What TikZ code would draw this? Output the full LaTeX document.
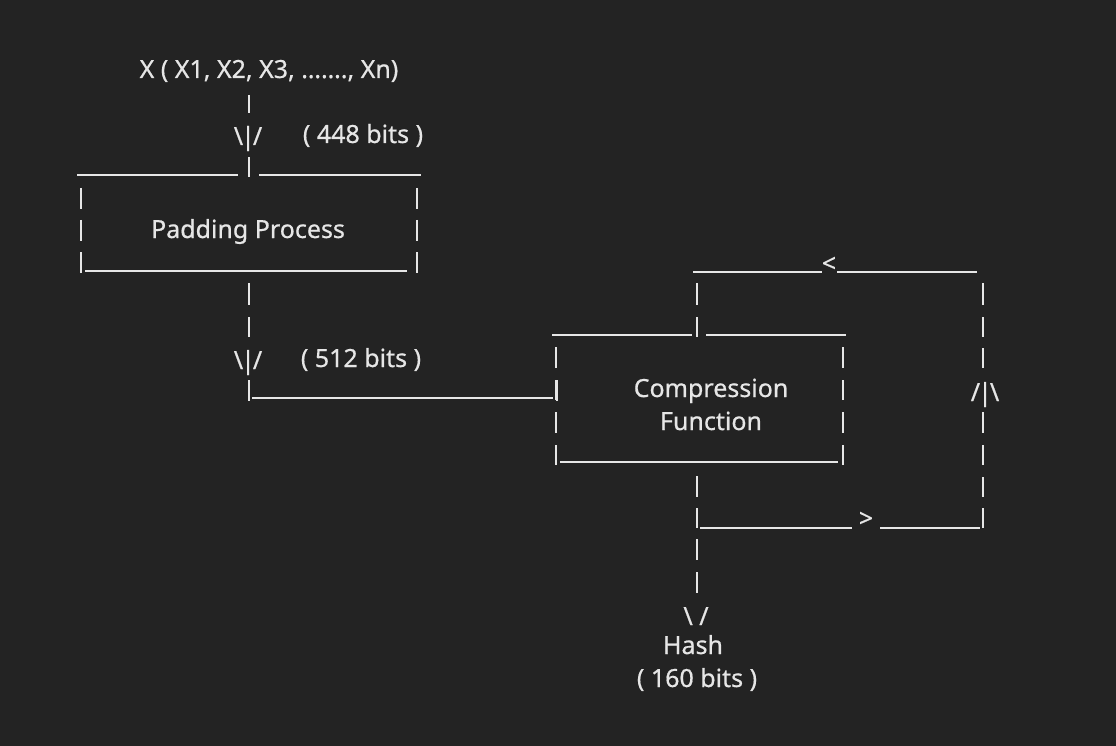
\documentclass[tikz,border=0pt]{standalone}
\usepackage{fontspec}
\setmainfont[FakeBold=0.6]{Noto Sans}
\definecolor{bg}{HTML}{232323}
\definecolor{fg}{HTML}{E6E6E6}
\tikzset{
  asciitext/.style={text=fg, font=\fontsize{25}{30}\selectfont, inner sep=0pt, anchor=base},
  bar/.style={draw=fg, line width=2pt},
}

\begin{document}
\begin{tikzpicture}[x=1pt,y=-1pt]
  % Background
  \fill[bg] (0,0) rectangle (1116,746);
  % Input and the padding box
  \node[asciitext] (input) at (269,78) {X ( X1, X2, X3, ……., Xn)};
  \node[asciitext] (headA) at (248,145) {\textbackslash\kern-2pt|\kern-2pt/};
  \node[asciitext] (bits448) at (363,143) {( 448 bits )};
  \node[asciitext] (padding) at (248,238) {Padding Process};
  \draw[bar] (77,175) -- (238,175);
  \draw[bar] (259,175) -- (421,175);
  \draw[bar] (85,271) -- (407,271);
  \foreach \a/\b in {188/209,220/241,252/273}{
    \draw[bar] (81,\a) -- (81,\b);
    \draw[bar] (417,\a) -- (417,\b);
  }
  % Down from the padding box
  \foreach \a/\b in {95/113,157/177,283/305,317/337,380/401}
    \draw[bar] (249,\a) -- (249,\b);
  \node[asciitext] (headB) at (248,369) {\textbackslash\kern-2pt|\kern-2pt/};
  \node[asciitext] (bits512) at (361,367) {( 512 bits )};
  \draw[bar] (252,398) -- (553,398);
  \draw[bar] (557,380) -- (557,401);
  % The compression box
  \node[asciitext] (compress) at (711,397) {Compression};
  \node[asciitext] (function) at (711,430) {Function};
  \draw[bar] (552,335) -- (692,335);
  \draw[bar] (706,335) -- (846,335);
  \draw[bar] (560,462) -- (838,462);
  \foreach \a/\b in {347/368,380/400,412/433,445/465}{
    \draw[bar] (556,\a) -- (556,\b);
    \draw[bar] (843,\a) -- (843,\b);
  }
  % Feedback loop
  \draw[bar] (693,272) -- (822,272);
  \node[asciitext] (back) at (829,272) {<};
  \draw[bar] (837,272) -- (977,272);
  \foreach \a/\b in {283/305,317/337}
    \draw[bar] (697,\a) -- (697,\b);
  \foreach \a/\b in {283/305,317/337,348/368,412/433,445/465,477/497,508/528}
    \draw[bar] (983,\a) -- (983,\b);
  \node[asciitext] (headC) at (985,401) {/\kern-2pt|\kern-2pt\textbackslash};
  \draw[bar] (700,528) -- (852,528);
  \node[asciitext] (forth) at (866,527) {>};
  \draw[bar] (880,528) -- (980,528);
  % Output
  \foreach \a/\b in {476/497,508/528,539/560,572/593}
    \draw[bar] (697,\a) -- (697,\b);
  \node[asciitext] (headD) at (696,625) {\textbackslash{} /};
  \node[asciitext] (hash) at (693,654) {Hash};
  \node[asciitext] (bits160) at (697,687) {( 160 bits )};
\end{tikzpicture}
\end{document}
